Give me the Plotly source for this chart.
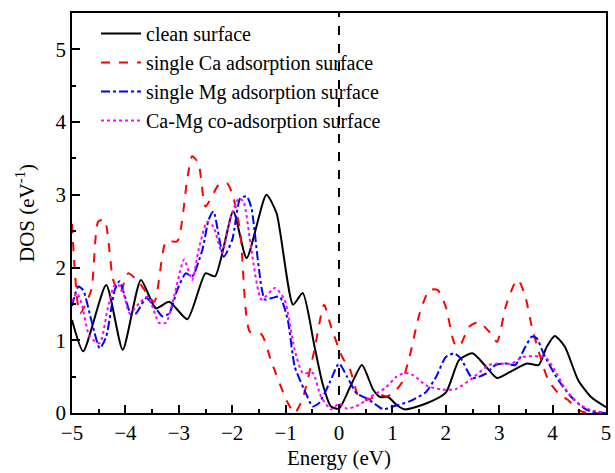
import plotly.graph_objects as go

# clean surface
clean_x = [-5.0, -4.79, -4.36, -4.05, -3.71, -3.43, -3.18, -2.84, -2.5, -2.32, -1.98, -1.73, -1.36, -1.17,
           -0.86, -0.68, -0.46, -0.31, -0.15, 0.0, 0.21, 0.43, 0.64, 0.77, 0.92, 1.08, 1.23, 1.63, 2.0,
           2.25, 2.5, 2.75, 2.96, 3.24, 3.52, 3.74, 3.89, 4.04, 4.23, 4.48, 4.72, 5.0]
clean_y = [1.28, 0.85, 1.76, 0.87, 1.83, 1.44, 1.53, 1.29, 1.92, 1.88, 2.77, 2.13, 3.0, 2.75,
           1.49, 1.65, 0.92, 0.41, 0.09, 0.06, 0.36, 0.66, 0.32, 0.22, 0.22, 0.11, 0.05, 0.13, 0.28,
           0.73, 0.82, 0.64, 0.48, 0.58, 0.68, 0.66, 0.91, 1.06, 0.91, 0.45, 0.22, 0.08]

# single Ca adsorption surface
ca_x = [-5.0, -4.85, -4.64, -4.51, -4.39, -4.23, -4.1, -3.95, -3.75, -3.46, -3.24, -3.03, -2.84, -2.75,
        -2.63, -2.5, -2.25, -2.1, -2.0, -1.85, -1.67, -1.45, -1.26, -0.96, -0.83, -0.68, -0.46, -0.28,
        -0.15, 0.06, 0.21, 0.37, 0.52, 0.77, 0.89, 1.01, 1.17, 1.32, 1.51, 1.69, 1.85, 2.0, 2.16,
        2.25, 2.44, 2.62, 2.81, 2.96, 3.12, 3.3, 3.36, 3.49, 3.61, 3.77, 3.92, 4.11, 4.29, 4.48,
        4.66, 5.0]
ca_y = [2.6, 1.37, 1.69, 2.63, 2.66, 1.83, 1.65, 1.92, 1.8, 1.53, 2.36, 2.36, 3.23, 3.53,
        3.43, 2.84, 3.14, 3.16, 3.02, 2.5, 1.12, 1.08, 0.69, 0.14, 0.0, 0.2, 0.87, 1.49,
        1.19, 0.77, 0.59, 0.22, 0.18, 0.25, 0.23, 0.27, 0.41, 0.77, 1.37, 1.69, 1.69, 1.46, 0.96,
        0.91, 1.19, 1.25, 1.12, 0.98, 1.46, 1.8, 1.83, 1.6, 1.19, 0.77, 0.45, 0.27, 0.18, 0.04,
        0.0, 0.0]

# single Mg adsorption surface
mg_x = [-5.0, -4.88, -4.79, -4.64, -4.48, -4.36, -4.2, -4.11, -3.89, -3.8, -3.61, -3.46, -3.31, -3.18,
        -3.03, -2.87, -2.75, -2.56, -2.44, -2.35, -2.16, -2.0, -1.85, -1.73, -1.64, -1.39, -1.26,
        -1.11, -0.96, -0.83, -0.65, -0.49, -0.37, -0.18, 0.0, 0.15, 0.33, 0.52, 0.7, 0.83, 1.01,
        1.32, 1.63, 1.82, 2.0, 2.16, 2.28, 2.5, 2.75, 2.93, 3.12, 3.3, 3.49, 3.61, 3.7, 3.86, 4.11,
        4.35, 4.6, 4.72, 5.0]
mg_y = [1.47, 1.74, 1.69, 1.28, 0.89, 1.05, 1.69, 1.81, 1.35, 1.37, 1.58, 1.47, 1.33, 1.37,
        1.69, 1.92, 1.88, 2.24, 2.66, 2.77, 2.15, 2.38, 2.95, 2.98, 2.82, 1.56, 1.58,
        1.6, 1.28, 0.64, 0.32, 0.09, 0.14, 0.41, 0.68, 0.5, 0.27, 0.2, 0.11, 0.05, 0.09,
        0.16, 0.29, 0.5, 0.77, 0.82, 0.75, 0.48, 0.54, 0.66, 0.68, 0.66, 0.91, 1.05, 1.03, 0.77, 0.45,
        0.22, 0.06, 0.02, 0.0]

# Ca-Mg co-adsorption surface
co_x = [-5.0, -4.91, -4.82, -4.67, -4.48, -4.33, -4.2, -4.08, -3.92, -3.74, -3.58, -3.37, -3.24, -3.09,
        -2.9, -2.75, -2.63, -2.47, -2.35, -2.19, -2.04, -1.88, -1.79, -1.64, -1.45, -1.2, -1.02,
        -0.83, -0.68, -0.49, -0.34, -0.15, 0.0, 0.15, 0.37, 0.58, 0.86, 1.08, 1.23, 1.39, 1.63,
        1.94, 2.19, 2.5, 2.81, 2.99, 3.24, 3.43, 3.74, 3.89, 4.04, 4.23, 4.48, 4.72, 5.0]
co_y = [1.53, 1.65, 1.51, 1.05, 0.96, 1.44, 1.76, 1.74, 1.37, 1.51, 1.6, 1.24, 1.24, 1.6,
        2.11, 1.83, 2.24, 2.63, 2.56, 2.2, 2.66, 2.95, 2.91, 2.24, 1.56, 1.72, 1.56,
        0.87, 0.55, 0.55, 0.23, 0.05, 0.13, 0.06, 0.11, 0.22, 0.34, 0.5, 0.55, 0.52, 0.38,
        0.32, 0.33, 0.48, 0.66, 0.68, 0.68, 0.77, 0.78, 0.75, 0.59, 0.34, 0.13, 0.04, 0.0]

names = ["clean surface", "single Ca adsorption surface",
         "single Mg adsorption surface", "Ca-Mg co-adsorption surface"]

FONT = "Liberation Serif, Times New Roman, Times, serif"

fig = go.Figure()
series = [(clean_x, clean_y, "#000000", "solid"),
          (ca_x, ca_y, "#ff0000", "dash"),
          (mg_x, mg_y, "#0000ff", "dashdot"),
          (co_x, co_y, "#ff00ff", "dot")]
for (xs, ys, col, dash), nm in zip(series, names):
    fig.add_trace(go.Scatter(x=xs, y=ys, mode="lines", name=nm,
                             line=dict(color=col, dash=dash, width=2, shape="spline", smoothing=0.6)))

fig.add_shape(type="line", x0=0, x1=0, y0=0, y1=1, xref="x", yref="paper",
              line=dict(color="black", width=2, dash="dash"))

axis_common = dict(showline=True, linecolor="black", linewidth=1.5, mirror=True,
                   ticks="inside", ticklen=8, tickwidth=1.5, tickcolor="black",
                   showgrid=False, zeroline=False,
                   tickfont=dict(family=FONT, size=21, color="black"),
                   minor=dict(ticks="inside", ticklen=4, tickwidth=1.5, tickcolor="black", dtick=0.5))

fig.update_xaxes(range=[-5, 5], dtick=1, tick0=-5,
                 title=dict(text="Energy (eV)", font=dict(family=FONT, size=21, color="black"), standoff=6),
                 **axis_common)
fig.update_yaxes(range=[0, 5.5], dtick=1, tick0=0,
                 title=dict(text="DOS (eV<sup>-1</sup>)", font=dict(family=FONT, size=21, color="black"), standoff=15),
                 **axis_common)

fig.update_layout(
    width=615, height=473,
    margin=dict(l=72, r=4, t=13, b=60),
    plot_bgcolor="white", paper_bgcolor="white",
    font=dict(family=FONT, color="black"),
    showlegend=True,
    legend=dict(x=0.045, y=0.9975, xanchor="left", yanchor="top",
                bgcolor="rgba(0,0,0,0)", borderwidth=0,
                font=dict(family=FONT, size=20, color="black"),
                tracegroupgap=0, itemwidth=40),
)

fig.write_html("out.html")
